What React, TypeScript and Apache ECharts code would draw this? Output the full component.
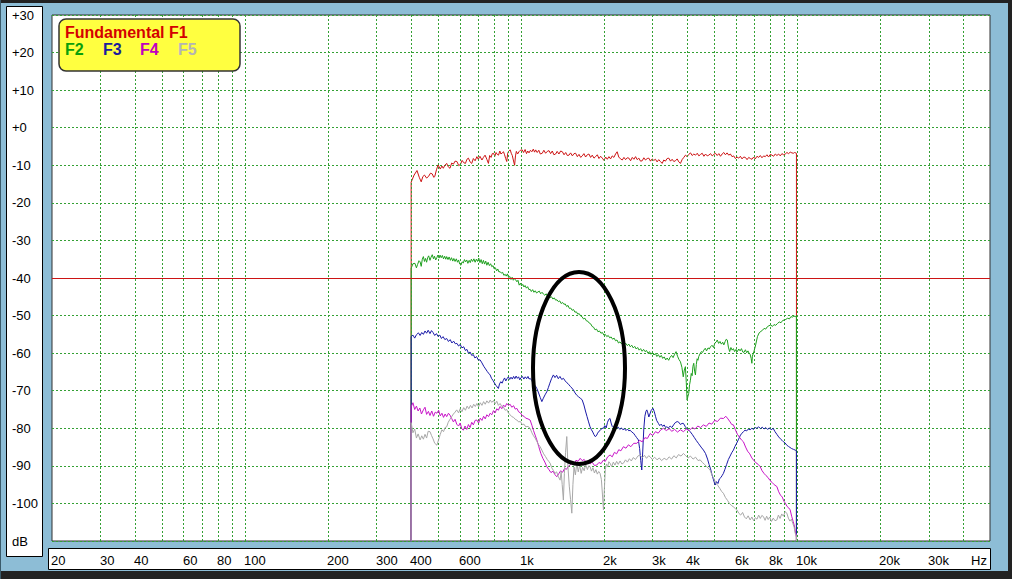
import React, { useEffect, useRef } from 'react';
import * as echarts from 'echarts';

const yMin = -110;
const yMax = 30;
const yStep = 10;
const xMin = 20;
const xMax = 50000;
const xTickLabels = [20, 30, 40, 60, 80, 100, 200, 300, 400, 600, 1000, 2000, 3000, 4000, 6000, 8000, 10000, 20000, 30000];
const xGridLines = [30, 40, 50, 60, 70, 80, 90, 100, 200, 300, 400, 500, 600, 700, 800, 900, 1000, 2000, 3000, 4000, 5000, 6000, 7000, 8000, 9000, 10000, 20000, 30000, 40000];
const legendNames = ['Fundamental F1', 'F2', 'F3', 'F4', 'F5'];
const lineColors = ['#cc1414', '#1ea01e', '#1a1aa8', '#c814c8', '#a8a8a8'];
const legendColors = ['#d40000', '#0aa00a', '#1c1c9c', '#c000c0', '#b4b4b4'];
const thresholdDb = -40;

const f1: [number, number][] = [[400,-110],[400,-14.5],[410,-12.6],[420,-11.4],[428,-13.2],[435,-14.4],[441,-13.0],[447,-12.6],[455,-13.4],[462,-13.0],[470,-12.1],[477,-12.3],[483,-13.2],[487,-13.0],[494,-11.2],[501,-9.9],[510,-11.0],[517,-10.2],[523,-10.8],[530,-10.0],[538,-9.5],[545,-10.4],[553,-10.8],[561,-9.4],[569,-9.7],[577,-8.9],[586,-9.0],[595,-10.1],[604,-9.7],[612,-8.7],[620,-9.3],[629,-9.5],[637,-8.4],[645,-8.1],[654,-9.1],[663,-9.5],[672,-8.2],[682,-8.8],[692,-7.7],[700,-8.4],[710,-7.6],[722,-8.6],[731,-7.9],[741,-7.3],[752,-8.4],[762,-9.5],[770,-7.4],[779,-7.9],[787,-6.9],[795,-6.8],[804,-7.6],[812,-6.6],[820,-7.1],[829,-7.3],[838,-6.2],[846,-7.0],[855,-6.7],[864,-6.4],[872,-7.2],[880,-8.2],[888,-9.0],[895,-6.8],[903,-6.2],[914,-5.9],[922,-6.8],[930,-7.4],[938,-8.6],[948,-10.0],[955,-7.5],[962,-6.3],[972,-7.0],[983,-6.4],[995,-6.0],[1010,-5.9],[1022,-6.6],[1035,-5.8],[1047,-6.9],[1058,-6.2],[1069,-6.7],[1082,-6.0],[1095,-6.4],[1108,-5.7],[1120,-6.5],[1130,-5.9],[1145,-6.6],[1160,-6.0],[1175,-7.0],[1194,-6.8],[1210,-6.0],[1228,-6.8],[1245,-6.3],[1263,-6.1],[1280,-6.9],[1298,-6.2],[1316,-7.2],[1335,-7.0],[1352,-6.3],[1372,-7.0],[1392,-6.2],[1412,-6.4],[1432,-7.2],[1452,-6.6],[1472,-7.4],[1492,-7.3],[1512,-6.7],[1535,-7.5],[1556,-6.9],[1577,-6.8],[1600,-7.7],[1622,-7.1],[1645,-7.9],[1667,-7.5],[1690,-6.9],[1714,-7.8],[1738,-7.2],[1762,-7.0],[1787,-7.9],[1812,-7.3],[1838,-8.1],[1863,-7.7],[1890,-7.2],[1916,-8.2],[1943,-7.6],[1970,-8.1],[1998,-8.7],[2026,-7.8],[2054,-8.4],[2082,-7.7],[2111,-8.3],[2140,-7.5],[2170,-7.9],[2201,-7.0],[2230,-6.4],[2260,-7.8],[2294,-8.3],[2327,-8.6],[2360,-7.9],[2393,-8.5],[2426,-8.0],[2460,-8.1],[2494,-8.8],[2530,-7.9],[2565,-8.4],[2600,-7.7],[2636,-8.5],[2672,-8.1],[2710,-8.9],[2748,-8.8],[2786,-8.0],[2825,-8.6],[2865,-8.2],[2905,-8.1],[2945,-8.9],[2986,-8.3],[3028,-8.7],[3070,-8.4],[3112,-9.1],[3155,-8.5],[3200,-9.0],[3246,-9.5],[3290,-8.6],[3336,-8.9],[3383,-8.2],[3431,-8.1],[3480,-8.9],[3528,-8.4],[3577,-9.0],[3627,-8.8],[3680,-8.3],[3730,-9.1],[3780,-9.5],[3833,-8.5],[3888,-7.9],[3943,-7.3],[3998,-7.7],[4054,-7.1],[4112,-6.7],[4170,-7.4],[4228,-7.0],[4288,-7.3],[4350,-6.8],[4410,-7.5],[4472,-7.1],[4533,-6.8],[4598,-7.6],[4662,-7.0],[4727,-7.5],[4791,-7.3],[4860,-6.9],[4928,-7.5],[4996,-7.1],[5064,-6.8],[5136,-7.4],[5208,-6.9],[5280,-7.6],[5353,-7.0],[5428,-6.6],[5503,-7.2],[5579,-6.7],[5656,-7.3],[5735,-7.0],[5815,-7.7],[5896,-7.5],[5978,-8.2],[6062,-7.8],[6147,-8.1],[6233,-7.6],[6320,-8.3],[6408,-7.8],[6498,-7.9],[6590,-8.5],[6682,-7.9],[6775,-8.2],[6868,-8.4],[6963,-7.8],[7060,-8.3],[7158,-7.6],[7259,-7.9],[7360,-7.4],[7462,-8.0],[7566,-7.5],[7673,-7.7],[7780,-7.2],[7888,-7.8],[7998,-7.1],[8111,-7.3],[8225,-7.6],[8340,-7.0],[8456,-7.4],[8573,-7.0],[8693,-7.5],[8814,-6.9],[8937,-7.2],[9062,-7.0],[9190,-6.6],[9318,-6.9],[9448,-6.5],[9580,-6.7],[9700,-6.8],[9800,-6.6],[9950,-6.8],[9950,-110]];

const f2: [number, number][] = [[400,-110],[400,-37.4],[406,-36.2],[413,-36.1],[418,-37.3],[422,-36.4],[427,-35.4],[431,-35.7],[435,-36.9],[439,-35.0],[443,-34.3],[447,-35.6],[451,-34.8],[455,-35.8],[459,-34.6],[463,-34.1],[468,-35.3],[472,-34.5],[477,-33.8],[482,-34.9],[486,-34.2],[491,-35.2],[496,-34.5],[500,-33.9],[505,-34.7],[509,-33.9],[514,-34.6],[519,-34.0],[524,-34.9],[529,-34.2],[534,-35.0],[538,-34.3],[544,-35.1],[549,-34.4],[555,-35.3],[560,-34.6],[566,-35.5],[571,-34.8],[577,-35.6],[583,-34.9],[589,-35.8],[594,-35.2],[600,-36.3],[606,-36.6],[612,-35.7],[618,-36.0],[624,-35.1],[630,-35.7],[636,-35.2],[642,-36.1],[649,-35.3],[655,-35.9],[661,-35.0],[668,-35.6],[675,-34.9],[682,-35.8],[689,-35.0],[696,-35.6],[703,-34.7],[710,-35.9],[717,-35.1],[724,-36.2],[731,-35.3],[738,-36.3],[745,-35.5],[752,-36.6],[760,-35.8],[768,-36.7],[776,-36.2],[784,-37.0],[792,-36.7],[800,-37.6],[808,-37.3],[816,-38.1],[824,-37.6],[832,-38.4],[840,-38.3],[849,-38.7],[858,-38.5],[867,-39.3],[876,-39.0],[884,-39.5],[893,-38.9],[902,-39.9],[911,-39.6],[920,-40.4],[929,-39.8],[938,-40.6],[947,-40.2],[957,-40.5],[966,-41.0],[975,-40.6],[985,-41.9],[995,-41.4],[1005,-42.1],[1015,-41.7],[1025,-42.4],[1035,-42.0],[1046,-42.7],[1057,-42.3],[1068,-43.1],[1079,-43.0],[1090,-43.6],[1102,-43.1],[1114,-43.8],[1126,-43.4],[1139,-44.0],[1152,-43.7],[1165,-43.5],[1178,-44.2],[1192,-43.8],[1206,-44.3],[1220,-44.6],[1234,-44.2],[1248,-44.9],[1262,-44.6],[1276,-45.2],[1290,-45.0],[1305,-45.6],[1320,-45.3],[1335,-45.9],[1350,-45.8],[1366,-46.3],[1382,-46.1],[1398,-46.8],[1414,-46.5],[1430,-47.0],[1446,-46.9],[1463,-47.6],[1480,-47.3],[1497,-48.1],[1514,-48.0],[1532,-48.6],[1550,-48.4],[1568,-49.1],[1587,-49.0],[1605,-49.6],[1625,-49.5],[1644,-50.1],[1664,-50.3],[1684,-50.9],[1704,-50.7],[1725,-51.4],[1746,-51.5],[1767,-52.0],[1788,-52.2],[1810,-52.9],[1832,-53.1],[1855,-53.8],[1878,-53.6],[1900,-54.3],[1924,-54.1],[1948,-54.7],[1972,-54.5],[1996,-55.2],[2020,-55.0],[2045,-55.6],[2070,-55.3],[2095,-55.9],[2121,-55.7],[2147,-56.3],[2174,-56.0],[2200,-56.7],[2227,-56.5],[2255,-57.3],[2283,-57.0],[2311,-57.5],[2340,-57.1],[2369,-57.7],[2398,-57.4],[2428,-58.0],[2458,-57.6],[2488,-58.3],[2519,-57.9],[2550,-58.6],[2582,-58.2],[2614,-58.9],[2646,-58.5],[2679,-59.2],[2712,-58.8],[2746,-59.5],[2780,-59.0],[2814,-59.6],[2849,-59.3],[2884,-60.0],[2920,-59.6],[2956,-60.3],[2993,-59.8],[3030,-60.5],[3068,-60.1],[3106,-60.9],[3144,-60.4],[3183,-61.1],[3222,-60.6],[3262,-61.4],[3303,-61.0],[3343,-61.8],[3385,-61.3],[3427,-61.9],[3469,-61.1],[3512,-60.6],[3556,-61.2],[3600,-60.3],[3645,-59.6],[3690,-60.8],[3735,-61.7],[3781,-62.3],[3828,-63.8],[3870,-66.3],[3905,-64.5],[3940,-63.6],[3970,-67.8],[3996,-72.5],[4025,-71.5],[4051,-70.7],[4080,-68.4],[4109,-67.2],[4138,-65.4],[4168,-66.0],[4196,-63.5],[4225,-62.7],[4255,-64.8],[4285,-65.8],[4316,-63.0],[4345,-61.5],[4375,-61.9],[4405,-60.9],[4450,-60.2],[4500,-59.6],[4550,-59.8],[4594,-59.2],[4650,-58.7],[4700,-59.4],[4760,-58.6],[4810,-58.9],[4859,-58.3],[4920,-57.9],[4980,-58.5],[5040,-57.3],[5100,-57.0],[5139,-56.5],[5200,-57.4],[5260,-56.9],[5320,-57.6],[5380,-57.1],[5430,-57.8],[5490,-56.9],[5540,-56.3],[5588,-56.5],[5640,-58.4],[5700,-59.6],[5760,-58.5],[5820,-59.2],[5880,-58.8],[5940,-59.6],[6010,-59.0],[6077,-59.6],[6150,-58.9],[6220,-59.4],[6290,-58.8],[6360,-59.7],[6424,-59.8],[6500,-59.1],[6570,-59.9],[6640,-59.4],[6698,-60.0],[6760,-60.3],[6820,-61.4],[6860,-62.7],[6891,-60.8],[6940,-60.1],[6984,-59.5],[7080,-57.8],[7187,-55.6],[7290,-54.6],[7400,-54.2],[7500,-53.9],[7597,-53.4],[7700,-53.6],[7800,-53.0],[7910,-52.7],[8034,-52.5],[8140,-52.9],[8250,-52.4],[8370,-52.6],[8496,-52.1],[8620,-51.7],[8750,-51.9],[8870,-51.3],[8983,-51.2],[9110,-51.0],[9250,-50.7],[9380,-50.9],[9500,-50.3],[9620,-50.4],[9750,-50.1],[9850,-50.3],[9950,-50.0],[9950,-110]];

const f3: [number, number][] = [[400,-110],[400,-55.6],[406,-55.2],[412,-56.0],[418,-55.1],[425,-54.6],[431,-55.3],[437,-54.5],[443,-55.0],[449,-54.1],[455,-54.7],[461,-53.9],[468,-54.8],[474,-54.0],[480,-54.5],[487,-55.3],[494,-54.8],[501,-55.6],[508,-55.2],[515,-56.1],[522,-55.6],[530,-56.4],[538,-56.1],[546,-56.9],[554,-56.4],[562,-57.3],[570,-56.8],[578,-57.5],[586,-57.4],[594,-58.1],[602,-57.7],[611,-58.6],[620,-58.3],[629,-59.3],[637,-59.0],[645,-60.0],[654,-59.7],[663,-60.6],[672,-60.4],[681,-61.3],[690,-60.9],[700,-61.8],[711,-61.8],[722,-62.6],[733,-63.5],[744,-64.2],[755,-64.9],[766,-65.5],[773,-65.8],[782,-66.7],[792,-67.3],[802,-68.0],[812,-68.6],[820,-69.0],[828,-69.4],[836,-68.2],[845,-67.6],[854,-68.0],[863,-67.2],[872,-66.6],[881,-67.4],[890,-66.8],[900,-66.3],[910,-67.0],[920,-66.4],[930,-66.9],[940,-66.2],[950,-66.8],[960,-66.1],[970,-66.7],[980,-66.3],[990,-67.1],[1000,-66.5],[1012,-66.2],[1024,-66.9],[1036,-66.3],[1048,-66.8],[1060,-66.2],[1070,-66.9],[1079,-66.7],[1095,-67.3],[1110,-68.2],[1125,-68.6],[1141,-69.4],[1158,-70.6],[1174,-71.8],[1190,-72.9],[1205,-72.0],[1222,-71.1],[1240,-70.3],[1256,-69.2],[1272,-68.0],[1290,-66.8],[1310,-65.8],[1328,-66.5],[1346,-65.9],[1365,-66.8],[1384,-66.2],[1404,-67.0],[1425,-66.7],[1446,-67.4],[1467,-67.9],[1488,-68.3],[1510,-68.9],[1530,-69.3],[1548,-69.8],[1570,-70.6],[1592,-71.2],[1615,-71.6],[1640,-72.0],[1665,-72.4],[1690,-73.8],[1712,-75.4],[1735,-76.9],[1757,-78.3],[1779,-79.6],[1800,-80.4],[1820,-81.0],[1838,-81.7],[1856,-82.2],[1875,-82.0],[1895,-81.3],[1915,-80.8],[1940,-80.5],[1965,-80.0],[1989,-80.0],[2012,-79.3],[2035,-79.9],[2058,-78.4],[2080,-77.6],[2102,-77.4],[2120,-78.6],[2140,-79.5],[2160,-79.8],[2182,-79.2],[2204,-80.1],[2224,-80.0],[2250,-79.7],[2280,-80.3],[2310,-79.9],[2340,-80.4],[2370,-80.1],[2400,-80.6],[2430,-80.2],[2460,-80.7],[2484,-80.5],[2520,-81.0],[2555,-81.3],[2590,-81.9],[2625,-82.5],[2662,-83.1],[2690,-85.4],[2715,-88.6],[2738,-91.1],[2760,-86.3],[2785,-80.2],[2810,-76.8],[2835,-75.5],[2856,-75.1],[2880,-75.9],[2905,-77.0],[2930,-76.2],[2960,-75.3],[2985,-74.9],[3010,-74.7],[3040,-75.6],[3070,-76.8],[3100,-77.9],[3146,-78.7],[3180,-79.3],[3220,-78.9],[3260,-79.5],[3300,-79.1],[3340,-79.8],[3374,-79.6],[3420,-79.9],[3470,-79.4],[3520,-79.8],[3570,-79.1],[3620,-78.5],[3680,-78.2],[3730,-78.4],[3780,-79.0],[3830,-78.7],[3876,-78.7],[3940,-79.6],[4000,-80.2],[4050,-80.5],[4100,-80.9],[4170,-81.6],[4240,-82.4],[4320,-83.3],[4400,-84.1],[4490,-85.0],[4580,-85.8],[4660,-86.7],[4740,-88.2],[4800,-89.6],[4860,-90.8],[4920,-92.4],[4980,-93.7],[5049,-95.1],[5110,-94.2],[5170,-94.7],[5230,-93.5],[5300,-93.1],[5360,-92.5],[5411,-92.0],[5480,-90.9],[5560,-89.6],[5640,-88.3],[5720,-87.4],[5800,-86.5],[5882,-85.8],[5960,-84.8],[6050,-83.9],[6140,-82.9],[6240,-81.8],[6320,-81.3],[6394,-80.9],[6480,-80.5],[6570,-80.7],[6660,-80.2],[6760,-80.4],[6860,-80.0],[6960,-80.3],[7060,-79.8],[7152,-80.0],[7260,-79.6],[7370,-80.1],[7480,-79.7],[7590,-80.2],[7700,-79.8],[7820,-80.3],[7940,-79.9],[8060,-80.4],[8193,-80.0],[8320,-80.9],[8450,-81.6],[8580,-82.3],[8700,-82.8],[8820,-83.2],[8928,-83.6],[9050,-83.9],[9180,-84.5],[9300,-84.8],[9430,-85.1],[9560,-85.4],[9700,-85.6],[9840,-85.8],[9950,-86.0],[9950,-110]];

const f4: [number, number][] = [[400,-110],[400,-74.3],[406,-73.2],[412,-75.0],[418,-74.1],[424,-75.4],[430,-74.6],[436,-76.2],[443,-75.1],[449,-74.4],[455,-76.3],[462,-75.5],[468,-76.6],[475,-75.4],[482,-76.8],[489,-75.7],[496,-76.0],[503,-75.2],[510,-76.7],[517,-76.0],[524,-77.1],[531,-76.2],[538,-76.9],[546,-76.0],[553,-76.5],[561,-77.4],[569,-78.3],[577,-77.6],[585,-78.9],[594,-79.4],[602,-78.6],[610,-80.1],[618,-80.5],[627,-79.4],[636,-80.3],[645,-79.0],[654,-79.8],[663,-78.4],[672,-79.1],[682,-77.9],[692,-77.8],[702,-78.6],[712,-77.3],[722,-77.9],[732,-76.8],[742,-77.5],[752,-76.4],[763,-76.9],[773,-76.0],[784,-76.4],[795,-75.3],[806,-75.9],[817,-74.8],[828,-75.2],[840,-74.2],[852,-74.8],[864,-73.8],[876,-74.3],[888,-73.4],[900,-73.9],[913,-73.6],[926,-74.4],[940,-74.0],[953,-74.9],[966,-74.7],[980,-75.6],[995,-75.9],[1010,-76.6],[1025,-76.8],[1040,-77.3],[1060,-77.5],[1079,-77.8],[1095,-79.2],[1110,-80.6],[1125,-81.8],[1141,-83.1],[1160,-84.9],[1180,-86.7],[1200,-88.0],[1220,-89.0],[1240,-90.2],[1262,-91.0],[1284,-91.8],[1306,-91.4],[1326,-92.3],[1348,-92.9],[1370,-92.1],[1392,-91.3],[1415,-91.7],[1438,-90.7],[1462,-90.9],[1485,-90.1],[1506,-89.8],[1530,-89.2],[1556,-89.6],[1582,-88.5],[1610,-88.8],[1638,-88.0],[1666,-88.6],[1694,-88.3],[1722,-89.1],[1750,-88.7],[1780,-89.5],[1810,-89.0],[1845,-89.9],[1881,-89.8],[1915,-89.1],[1950,-89.4],[1985,-88.5],[2020,-88.8],[2060,-87.6],[2102,-87.1],[2140,-87.6],[2180,-86.4],[2220,-86.8],[2260,-85.7],[2300,-86.0],[2350,-84.9],[2400,-85.3],[2450,-84.4],[2500,-84.9],[2560,-84.0],[2627,-84.0],[2690,-83.2],[2750,-83.6],[2810,-82.5],[2870,-82.7],[2936,-81.4],[3000,-81.9],[3070,-80.9],[3140,-81.3],[3210,-80.4],[3280,-80.0],[3360,-80.6],[3440,-80.1],[3520,-80.8],[3600,-80.3],[3690,-81.0],[3780,-80.4],[3876,-80.9],[3970,-80.2],[4070,-80.6],[4170,-79.8],[4270,-80.2],[4370,-79.4],[4470,-79.8],[4580,-79.1],[4690,-79.5],[4800,-78.6],[4910,-78.9],[5030,-77.9],[5150,-78.2],[5280,-77.3],[5411,-77.4],[5520,-76.8],[5620,-77.5],[5720,-78.3],[5800,-79.0],[5882,-79.1],[5980,-80.4],[6080,-81.6],[6190,-82.4],[6290,-83.1],[6394,-83.6],[6510,-85.0],[6620,-86.1],[6740,-86.8],[6860,-87.9],[6980,-88.6],[7100,-89.2],[7230,-89.6],[7350,-90.2],[7470,-91.3],[7590,-92.0],[7720,-92.6],[7850,-93.1],[7980,-93.9],[8120,-94.4],[8260,-95.0],[8449,-95.5],[8580,-96.9],[8710,-97.8],[8840,-98.3],[8960,-99.4],[9080,-100.0],[9200,-100.8],[9330,-101.2],[9440,-101.7],[9560,-103.4],[9680,-104.8],[9780,-106.0],[9840,-107.1],[9900,-108.2],[9950,-109.0],[9950,-110]];

const f5: [number, number][] = [[400,-110],[400,-78.5],[406,-81.2],[412,-80.2],[418,-82.6],[424,-81.5],[431,-83.1],[437,-82.0],[443,-82.9],[449,-81.6],[455,-82.6],[461,-80.8],[468,-80.9],[474,-81.9],[480,-82.8],[487,-84.0],[496,-84.5],[503,-83.0],[510,-81.6],[517,-80.4],[524,-80.9],[531,-79.8],[538,-79.6],[545,-78.4],[553,-77.6],[561,-76.9],[569,-76.2],[577,-75.7],[585,-75.1],[594,-75.9],[602,-74.8],[611,-75.6],[620,-74.5],[629,-75.2],[638,-74.1],[647,-74.8],[656,-73.9],[665,-74.6],[674,-73.6],[683,-74.2],[692,-73.4],[702,-74.3],[712,-73.2],[722,-73.9],[732,-72.9],[742,-73.6],[752,-72.7],[763,-73.3],[773,-72.5],[784,-73.1],[795,-72.6],[806,-73.5],[817,-72.8],[828,-73.9],[840,-73.4],[852,-74.2],[863,-74.3],[876,-75.2],[888,-75.0],[900,-75.9],[913,-76.4],[926,-76.9],[940,-77.1],[953,-77.6],[966,-77.8],[980,-78.3],[995,-78.2],[1010,-79.0],[1025,-78.9],[1040,-79.6],[1060,-79.5],[1079,-80.0],[1095,-81.2],[1110,-82.0],[1125,-82.6],[1141,-83.5],[1157,-84.3],[1173,-84.9],[1190,-85.8],[1208,-86.8],[1226,-87.5],[1245,-88.3],[1260,-88.8],[1275,-89.3],[1292,-90.5],[1310,-91.2],[1328,-92.0],[1346,-91.6],[1366,-92.9],[1386,-93.8],[1398,-91.5],[1410,-95.0],[1424,-99.1],[1436,-92.0],[1450,-86.5],[1465,-82.2],[1480,-90.5],[1496,-95.4],[1512,-99.0],[1528,-102.6],[1542,-95.0],[1556,-90.3],[1574,-92.4],[1593,-89.3],[1612,-91.6],[1632,-89.8],[1652,-92.0],[1672,-90.4],[1694,-91.3],[1715,-89.6],[1740,-91.0],[1760,-90.0],[1779,-90.2],[1800,-91.4],[1822,-90.5],[1845,-91.9],[1868,-91.0],[1890,-92.2],[1912,-91.5],[1934,-92.0],[1955,-93.6],[1972,-97.5],[1989,-101.7],[2005,-96.0],[2020,-91.0],[2040,-89.5],[2060,-90.3],[2080,-88.9],[2102,-89.3],[2130,-90.2],[2160,-89.0],[2190,-89.8],[2220,-88.8],[2250,-89.6],[2285,-88.7],[2320,-89.5],[2350,-89.3],[2390,-88.4],[2430,-89.0],[2470,-88.1],[2510,-88.7],[2550,-87.8],[2600,-88.3],[2650,-87.4],[2700,-87.1],[2750,-87.8],[2800,-87.2],[2850,-88.0],[2900,-87.3],[2936,-87.6],[2990,-88.3],[3050,-87.7],[3110,-88.4],[3170,-87.9],[3230,-88.6],[3300,-88.0],[3374,-88.4],[3440,-87.6],[3510,-88.2],[3580,-87.3],[3650,-87.9],[3720,-87.0],[3800,-87.4],[3876,-86.7],[3950,-87.3],[4030,-87.9],[4110,-87.4],[4200,-88.2],[4290,-87.7],[4380,-88.6],[4456,-88.4],[4540,-89.1],[4620,-89.6],[4700,-90.2],[4770,-90.6],[4843,-91.1],[4920,-92.5],[5000,-93.4],[5080,-94.6],[5160,-95.2],[5250,-96.0],[5330,-96.8],[5411,-97.3],[5500,-98.4],[5600,-99.2],[5700,-100.1],[5800,-100.6],[5900,-101.0],[5980,-101.4],[6050,-101.7],[6150,-102.6],[6250,-103.1],[6350,-102.4],[6450,-103.6],[6550,-104.1],[6650,-103.3],[6762,-104.4],[6860,-103.6],[6960,-104.6],[7060,-103.8],[7160,-104.2],[7260,-103.1],[7360,-104.0],[7456,-103.2],[7556,-103.5],[7660,-104.5],[7760,-103.4],[7860,-104.3],[7960,-103.6],[8080,-104.8],[8200,-103.9],[8320,-104.6],[8449,-104.4],[8560,-103.1],[8680,-104.0],[8800,-102.8],[8920,-103.4],[9060,-102.2],[9184,-102.6],[9300,-103.9],[9420,-104.7],[9540,-104.2],[9660,-105.4],[9760,-106.3],[9840,-107.9],[9950,-108.5],[9950,-110]];

const seriesData = [f1, f2, f3, f4, f5];

const FONT = '"Liberation Sans", Arial, sans-serif';
const GRID_GREEN = '#34a034';

function fmtHz(v: number): string {
  return v >= 1000 ? `${v / 1000}k` : String(v);
}
function fmtDb(v: number): string {
  if (v === yMin) return 'dB';
  return v >= 0 ? `+${v}` : String(v);
}

export default function App() {
  const ref = useRef<HTMLDivElement>(null);

  useEffect(() => {
    if (!ref.current) return;
    const chart = echarts.init(ref.current, null, { renderer: 'svg', width: 1012, height: 579 });

    const lineSeries = seriesData.map((d, i) => ({
      type: 'line',
      name: legendNames[i],
      data: d,
      showSymbol: false,
      symbol: 'none',
      silent: true,
      z: 3 + i,
      lineStyle: { color: lineColors[i], width: 1 },
      itemStyle: { color: lineColors[i] },
      ...(i === 0
        ? {
            markLine: {
              silent: true,
              symbol: ['none', 'none'],
              label: { show: false },
              lineStyle: { color: '#cc1414', width: 1, type: 'solid' },
              data: [{ yAxis: thresholdDb }],
            },
          }
        : {}),
    }));

    chart.setOption({
      animation: false,
      backgroundColor: '#8dbdd6',
      grid: {
        left: 52,
        top: 15,
        width: 938,
        height: 526,
        show: true,
        backgroundColor: '#ffffff',
        borderColor: '#303030',
        borderWidth: 1,
      },
      xAxis: {
        type: 'log',
        logBase: 10,
        min: xMin,
        max: xMax,
        axisLine: { show: false },
        axisTick: { show: false },
        axisLabel: { show: false },
        splitLine: { show: false },
      },
      yAxis: {
        type: 'value',
        min: yMin,
        max: yMax,
        interval: yStep,
        axisLine: { show: false },
        axisTick: { show: false },
        axisLabel: {
          align: 'left',
          margin: 40,
          color: '#000',
          fontSize: 13,
          fontFamily: FONT,
          padding: [4, 0, 0, 0],
          showMinLabel: true,
          showMaxLabel: true,
          formatter: (v: number) => fmtDb(v),
        },
        splitLine: { show: true, lineStyle: { color: GRID_GREEN, width: 1, type: [2, 2] } },
      },
      series: [
        {
          type: 'line',
          name: 'grid',
          data: [[xMin, yMin - 50]],
          showSymbol: false,
          silent: true,
          z: 1,
          lineStyle: { opacity: 0 },
          markLine: {
            silent: true,
            symbol: ['none', 'none'],
            label: { show: false },
            lineStyle: { color: GRID_GREEN, width: 1, type: [2, 2] },
            data: xGridLines.map((v) => ({ xAxis: v })),
          },
        },
        ...lineSeries,
      ],
    });

    const px = (v: number) => chart.convertToPixel({ xAxisIndex: 0 }, v) as number;

    const xLabelEls = xTickLabels.map((v) => ({
      type: 'text',
      x: Math.round(px(v)) - 1,
      y: 560,
      z: 20,
      silent: true,
      style: { text: fmtHz(v), fill: '#000', fontSize: 13, fontFamily: FONT, align: 'left', verticalAlign: 'middle' },
    }));

    const legendEls = [
      { x: 65, y: 32, text: legendNames[0], color: legendColors[0] },
      { x: 65, y: 49, text: legendNames[1], color: legendColors[1] },
      { x: 103, y: 49, text: legendNames[2], color: legendColors[2] },
      { x: 140, y: 49, text: legendNames[3], color: legendColors[3] },
      { x: 178, y: 49, text: legendNames[4], color: legendColors[4] },
    ].map((e) => ({
      type: 'text',
      x: e.x,
      y: e.y,
      z: 101,
      silent: true,
      style: { text: e.text, fill: e.color, fontSize: 16, fontWeight: 'bold', fontFamily: FONT, align: 'left', verticalAlign: 'middle' },
    }));

    chart.setOption({
      graphic: [
        { type: 'rect', silent: true, z: -10, shape: { x: 0, y: 0, width: 1012, height: 3 }, style: { fill: '#222222' } },
        { type: 'rect', silent: true, z: -10, shape: { x: 0, y: 571, width: 1012, height: 8 }, style: { fill: '#222222' } },
        { type: 'rect', silent: true, z: -10, shape: { x: 1008, y: 0, width: 4, height: 579 }, style: { fill: '#222222' } },
        { type: 'rect', silent: true, z: -10, shape: { x: 0, y: 0, width: 1, height: 579 }, style: { fill: '#3a5a6a' } },
        { type: 'rect', silent: true, z: -10, shape: { x: 6.5, y: 6.5, width: 36, height: 550 }, style: { fill: '#ffffff', stroke: '#000000', lineWidth: 1 } },
        { type: 'rect', silent: true, z: -10, shape: { x: 48.5, y: 548.5, width: 942, height: 21 }, style: { fill: '#ffffff', stroke: '#000000', lineWidth: 1 } },
        ...xLabelEls,
        {
          type: 'text',
          x: 987,
          y: 560,
          z: 20,
          silent: true,
          style: { text: 'Hz', fill: '#000', fontSize: 13, fontFamily: FONT, align: 'right', verticalAlign: 'middle' },
        },
        { type: 'rect', silent: true, z: 100, shape: { x: 59, y: 19, width: 181, height: 52, r: 7 }, style: { fill: '#ffff40', stroke: '#333333', lineWidth: 1.5 } },
        ...legendEls,
        { type: 'ellipse', silent: true, z: 110, shape: { cx: 579, cy: 368, rx: 46, ry: 96 }, style: { fill: 'none', stroke: '#000000', lineWidth: 4 } },
      ],
    });

    return () => {
      chart.dispose();
    };
  }, []);

  return <div ref={ref} style={{ position: 'absolute', left: 0, top: 0, width: 1012, height: 579 }} />;
}
